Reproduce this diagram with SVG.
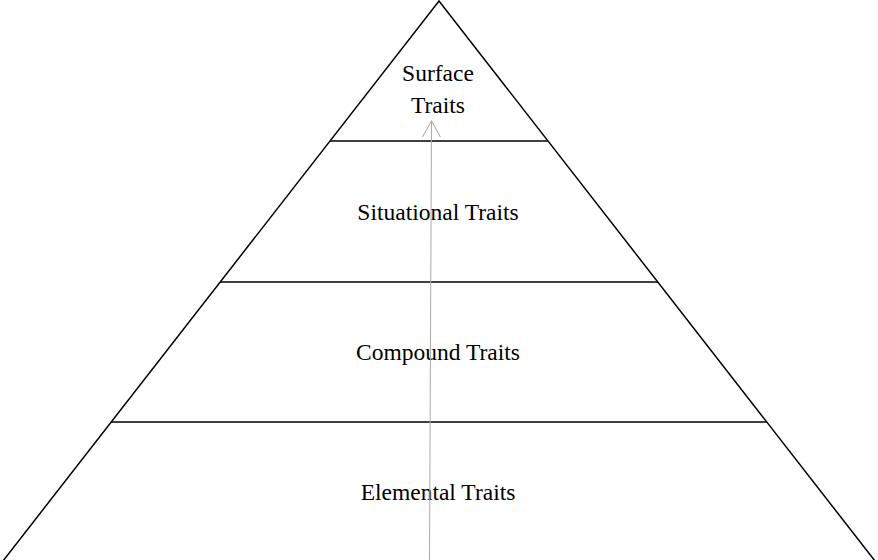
<svg xmlns="http://www.w3.org/2000/svg" width="878" height="560" viewBox="0 0 878 560">
<style>
.edge{stroke:#000;stroke-width:1.5;fill:none}
.lbl{font-family:"Liberation Serif","Times New Roman",serif;font-size:23.5px;fill:#000;text-anchor:middle}
.arrow{stroke:#aaa;stroke-width:1;fill:none}
</style>
<defs>
<marker id="open" markerWidth="24" markerHeight="24" refX="16" refY="10" orient="auto" markerUnits="userSpaceOnUse">
<path d="M0,1 L16,10 L0,19" fill="none" stroke="#aaa" stroke-width="1"/>
</marker>
</defs>
<rect width="878" height="560" fill="#fff"/>
<g id="pyramid">
<path class="edge" d="M3,561 L439,1 L875,561"/>
</g>
<g id="surface"><line class="edge" x1="330" y1="141" x2="548" y2="141"/><text class="lbl" x="438" y="81">Surface</text><text class="lbl" x="438" y="113">Traits</text></g>
<g id="situational"><line class="edge" x1="220" y1="282" x2="658" y2="282"/><text class="lbl" x="438" y="220">Situational Traits</text></g>
<g id="compound"><line class="edge" x1="111" y1="422" x2="767" y2="422"/><text class="lbl" x="438" y="360">Compound Traits</text></g>
<g id="elemental"><text class="lbl" x="438" y="500">Elemental Traits</text></g>
<g id="connectors">
<line class="arrow" x1="429.5" y1="560" x2="431.5" y2="121" marker-end="url(#open)"/>
</g>
</svg>
